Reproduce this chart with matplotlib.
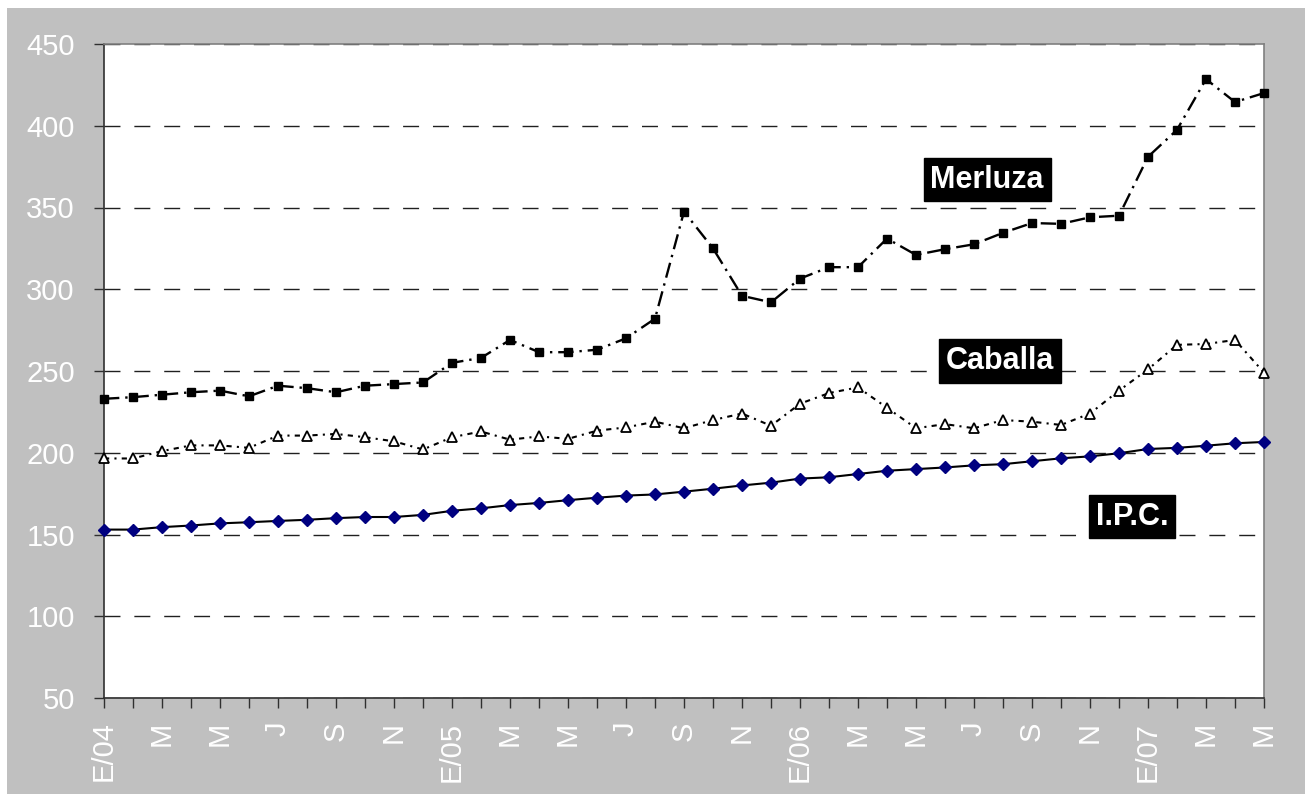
import matplotlib
matplotlib.use("Agg")
import matplotlib.pyplot as plt
from matplotlib.patches import Rectangle

plt.rcParams["font.family"] = ["Liberation Sans", "DejaVu Sans"]

# monthly series, E/04 .. M/07
month_labels = ["E/04", "", "M", "", "M", "", "J", "", "S", "", "N", "",
                "E/05", "", "M", "", "M", "", "J", "", "S", "", "N", "",
                "E/06", "", "M", "", "M", "", "J", "", "S", "", "N", "",
                "E/07", "", "M", "", "M"]

merluza = [233, 234, 235.5, 237, 238, 234.5, 241, 239.5, 237, 241, 242, 243,
           255, 258, 269, 261.5, 261.5, 263, 270, 282, 347.5, 325, 296, 292,
           306.5, 313.5, 313.5, 331, 321, 324.5, 327.5, 334.5, 340.5, 340, 344, 345,
           381, 397.5, 428.5, 414.5, 420]

caballa = [196.5, 196.5, 201, 204.5, 204.5, 203, 210.5, 210.5, 211.5, 209.5, 207, 202,
           209.5, 213, 208, 210, 208.5, 213.5, 215.5, 219, 215, 220, 224, 216.5,
           230, 236.5, 240, 227.5, 215, 217.5, 215, 220, 219, 217, 224, 238,
           251, 266, 266.5, 269, 249]

ipc = [153, 153, 154.5, 155.5, 156.8, 157.5, 158.3, 159, 160, 160.7, 160.7, 162,
       164.5, 166, 168, 169.3, 171, 172.5, 173.8, 174.5, 176.2, 178, 180, 181.7,
       184.2, 185, 187, 189, 190, 191, 192.3, 193, 194.8, 196.6, 197.8, 199.7,
       202.3, 203, 204.3, 205.8, 206.6]

x = list(range(len(month_labels)))

W, H = 1311, 794
fig = plt.figure(figsize=(W / 100, H / 100), dpi=100, facecolor="white")
bg = Rectangle((7 / W, 0), (1305 - 7) / W, (H - 8) / H,
               transform=fig.transFigure, facecolor="#c0c0c0",
               edgecolor="none", zorder=-10)
fig.add_artist(bg)

ax = fig.add_axes([104 / W, (H - 698) / H, (1264 - 104) / W, (698 - 44) / H])
ax.set_zorder(1)
ax.set_facecolor("white")

ax.plot(x, merluza, color="black", lw=1.7, dashes=(6.5, 2.5, 1, 2.5),
        marker="s", markersize=6, markerfacecolor="black",
        markeredgecolor="black", zorder=4, clip_on=False)
ax.plot(x, caballa, color="black", lw=1.5, dashes=(2.5, 2.5, 1, 2.5),
        marker="^", markersize=7.5, markerfacecolor="white",
        markeredgecolor="black", markeredgewidth=1.3, zorder=4, clip_on=False)
ax.plot(x, ipc, color="black", lw=1.5, marker="D", markersize=6,
        markerfacecolor="#000080", markeredgecolor="#000080", zorder=5,
        clip_on=False)

ax.set_xlim(0, len(x) - 1)
ax.set_ylim(50, 450)
ax.set_yticks(range(50, 451, 50))
ax.set_xticks(x)
ax.set_xticklabels(month_labels, rotation=90)

ax.grid(axis="y", color="#202020", lw=1, dashes=(11.5, 10))
ax.set_axisbelow(True)

for side in ["left", "bottom"]:
    ax.spines[side].set_color("#303030")
    ax.spines[side].set_linewidth(1.2)
for side in ["top", "right"]:
    ax.spines[side].set_color("#808080")
    ax.spines[side].set_linewidth(1.2)

ax.tick_params(axis="both", direction="out", length=7, width=1,
               color="#303030", labelcolor="white", labelsize=21)
ax.tick_params(axis="y", pad=14)
ax.tick_params(axis="x", pad=10)

box = dict(facecolor="black", edgecolor="black", boxstyle="square,pad=0.22")
ax.text(30.45, 367, "Merluza", color="white", fontsize=22, fontweight="bold",
        ha="center", va="center", bbox=box, zorder=6)
ax.text(30.9, 256, "Caballa", color="white", fontsize=22, fontweight="bold",
        ha="center", va="center", bbox=box, zorder=6)
ax.text(35.45, 161, "I.P.C.", color="white", fontsize=22, fontweight="bold",
        ha="center", va="center", bbox=box, zorder=6)

fig.savefig("out.png", dpi=100, facecolor=fig.get_facecolor())
